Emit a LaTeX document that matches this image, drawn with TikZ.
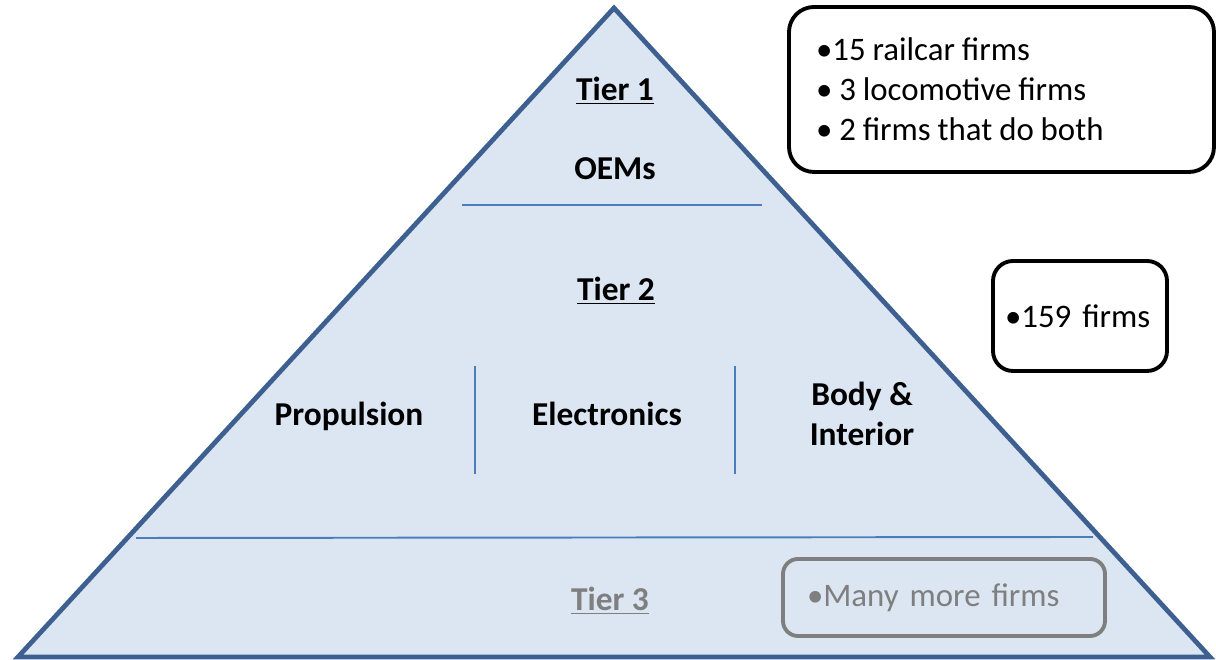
\documentclass[tikz,border=0pt]{standalone}
\usepackage{fontspec}
\setmainfont{Carlito}
\usetikzlibrary{positioning}
\definecolor{PyrFill}{RGB}{220,230,242}
\definecolor{PyrEdge}{RGB}{61,96,145}
\definecolor{PyrLine}{RGB}{74,126,187}
\definecolor{TierGray}{RGB}{127,127,127}
\newcommand{\tierTitle}[1]{\underline{#1}}

\begin{document}
\begin{tikzpicture}[
		tierText/.style={font=\fontsize{19}{22.7}\selectfont\bfseries, align=center},
		infoBox/.style={draw, line width=2.2pt, font=\fontsize{18.7}{22.7}\selectfont, align=left, inner ysep=0pt},
		divider/.style={PyrLine, line width=1.1pt}
	]
	
		\useasboundingbox (0,0) rectangle (24.32,13.2);
		
		\coordinate (apex) at (12.28,13.04);
		\coordinate (bl) at (0.36,0.06);
		\coordinate (br) at (24.2,0.06);
		
		\fill [PyrFill] (apex) -- (bl) -- (br) -- cycle;
		\draw [PyrEdge, line width=2.7pt] (apex) -- (bl) -- (br) -- cycle;
		
		% tier dividers
		\coordinate (t1l) at (9.24,9.1);
		\coordinate (t1r) at (15.24,9.1);
		\coordinate (t3l) at (2.72,2.44);
		\coordinate (t3r) at (21.86,2.46);
		\draw [divider] (t1l) -- (t1r);
		\draw [divider] (t3l) -- (t3r);
		
		\coordinate (v1t) at (9.5,5.88);
		\coordinate (v1b) at (9.5,3.72);
		\coordinate (v2t) at (14.7,5.88);
		\coordinate (v2b) at (14.7,3.72);
		\draw [divider] (v1t) -- (v1b);
		\draw [divider] (v2t) -- (v2b);
		
		\node [tierText, anchor=base] (tier1) at (12.3,11.19) {\tierTitle{Tier 1}};
		\node [tierText, anchor=base] (oems) at (12.3,9.6) {OEMs};
		\node [tierText, anchor=base] (tier2) at (12.32,7.18) {\tierTitle{Tier 2}};
		\node [tierText, anchor=base] (prop) at (6.98,4.69) {Propulsion};
		\node [tierText, anchor=base] (elec) at (12.14,4.68) {Electronics};
		\node [tierText] (body) at (17.24,4.92) {Body \&\\Interior};
		\node [tierText, anchor=base, text=TierGray] (tier3) at (12.2,0.98) {\tierTitle{Tier 3}};
		
		\node [infoBox, rounded corners=0.5cm, inner xsep=0.54cm, text width=7.42cm, minimum height=3.3cm] (oemBox) at (20.03,11.41)
			{\spaceskip=0.21em\relax •15 railcar firms\\• 3 locomotive firms\\• 2 firms that do both};
		\node [infoBox, rounded corners=0.4cm, inner xsep=0.24cm, text width=3cm, minimum height=2.2cm] (tier2Box) at (21.6,6.88)
			{•159 firms};
		\node [infoBox, draw=TierGray, text=TierGray, rounded corners=0.3cm, inner xsep=0.48cm, text width=5.48cm, minimum height=1.54cm] (tier3Box) at (18.88,1.25)
			{•Many more firms};
	\end{tikzpicture}
\end{document}
